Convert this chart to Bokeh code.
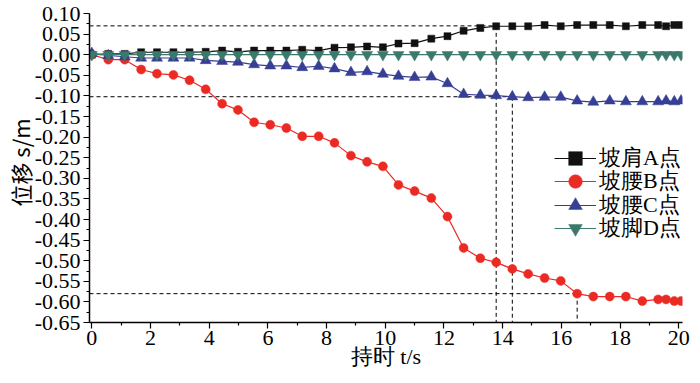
import math
from bokeh.plotting import figure
from bokeh.models import Range1d, FixedTicker, NumeralTickFormatter, Legend, LegendItem
from bokeh.embed import file_html
from bokeh.resources import INLINE

# ---------------- data ----------------
t = [0.00, 0.56, 1.12, 1.68, 2.22, 2.78, 3.33, 3.88, 4.44, 4.98,
     5.53, 6.08, 6.63, 7.17, 7.73, 8.27, 8.83, 9.38, 9.92, 10.45,
     11.00, 11.57, 12.12, 12.67, 13.24, 13.78, 14.33, 14.87, 15.43, 15.98,
     16.54, 17.09, 17.65, 18.20, 18.76, 19.30, 19.57, 19.85, 20.08]

s_A = [0.000, 0.002, 0.002, 0.006, 0.006, 0.006, 0.006, 0.007, 0.010, 0.007,
       0.010, 0.010, 0.010, 0.012, 0.010, 0.017, 0.018, 0.020, 0.018, 0.027,
       0.028, 0.039, 0.045, 0.058, 0.065, 0.069, 0.069, 0.069, 0.072, 0.069,
       0.072, 0.072, 0.072, 0.069, 0.072, 0.072, 0.069, 0.072, 0.072]

s_B = [0.000, -0.012, -0.012, -0.036, -0.046, -0.049, -0.062, -0.084, -0.119, -0.134,
       -0.164, -0.170, -0.178, -0.198, -0.198, -0.214, -0.245, -0.260, -0.271, -0.316,
       -0.331, -0.348, -0.393, -0.469, -0.494, -0.504, -0.520, -0.532, -0.542, -0.549,
       -0.580, -0.587, -0.587, -0.587, -0.598, -0.594, -0.594, -0.598, -0.598]

s_C = [0.003, -0.002, -0.005, -0.008, -0.008, -0.008, -0.008, -0.014, -0.016, -0.018,
       -0.024, -0.027, -0.027, -0.031, -0.028, -0.034, -0.043, -0.041, -0.047, -0.052,
       -0.055, -0.054, -0.070, -0.096, -0.098, -0.099, -0.102, -0.104, -0.103, -0.103,
       -0.112, -0.115, -0.112, -0.114, -0.114, -0.114, -0.112, -0.114, -0.112]

s_D = [0.000, 0.000, 0.000, 0.000, 0.000, 0.000, 0.000, 0.000, 0.000, 0.000,
       0.000, 0.000, 0.000, 0.000, 0.000, 0.000, 0.000, 0.000, 0.000, 0.000,
       0.000, 0.000, 0.000, 0.000, 0.000, 0.000, 0.000, 0.000, 0.000, 0.000,
       0.000, 0.000, 0.000, 0.000, 0.000, 0.000, 0.000, 0.000, 0.000]

series_names = ["坡肩A点", "坡腰B点", "坡腰C点", "坡脚D点"]
x_title = "持时 t/s"
y_title = "位移 s/m"

# reference (dashed) guide lines: level and time of the marked points
ref_levels = [0.07, -0.102, -0.58]
ref_times = [13.78, 14.33, 16.54]

x_ticks = [0, 2, 4, 6, 8, 10, 12, 14, 16, 18, 20]
x_minor = [1, 3, 5, 7, 9, 11, 13, 15, 17, 19]
y_ticks = [0.10, 0.05, 0.00, -0.05, -0.10, -0.15, -0.20, -0.25, -0.30, -0.35,
           -0.40, -0.45, -0.50, -0.55, -0.60, -0.65]
y_minor = [0.075, 0.025, -0.025, -0.075, -0.125, -0.175, -0.225, -0.275, -0.325,
           -0.375, -0.425, -0.475, -0.525, -0.575, -0.625]

X_MIN, X_MAX = -0.08, 20.13
Y_MIN, Y_MAX = -0.65, 0.10

# ---------------- figure ----------------
p = figure(width=692, height=375, output_backend="svg", toolbar_location=None,
           x_range=Range1d(X_MIN, X_MAX), y_range=Range1d(Y_MIN, Y_MAX),
           min_border_left=83, min_border_right=10, min_border_top=13, min_border_bottom=53)
p.outline_line_color = None
p.xgrid.visible = False
p.ygrid.visible = False
p.background_fill_color = "white"

SERIF = "Liberation Serif"

for ax in (p.xaxis[0], p.yaxis[0]):
    ax.axis_line_width = 1.5
    ax.axis_line_color = "black"
    ax.major_tick_line_color = "black"
    ax.minor_tick_line_color = "black"
    ax.major_tick_line_width = 1.2
    ax.minor_tick_line_width = 1.2
    ax.major_tick_in = 0
    ax.major_tick_out = 6
    ax.minor_tick_in = 0
    ax.minor_tick_out = 3
    ax.major_label_text_font = SERIF
    ax.major_label_text_font_size = "22px"
    ax.major_label_text_color = "black"
    ax.axis_label_text_font_size = "22px"
    ax.axis_label_text_font_style = "normal"
    ax.axis_label_text_color = "black"

p.xaxis[0].axis_label_text_font = SERIF
p.yaxis[0].axis_label_text_font = "Noto Sans CJK SC"

p.xaxis[0].ticker = FixedTicker(ticks=x_ticks, minor_ticks=x_minor)
p.xaxis[0].formatter = NumeralTickFormatter(format="0")
p.xaxis[0].major_label_standoff = 2
p.xaxis[0].axis_label = x_title
p.xaxis[0].axis_label_standoff = -4

p.yaxis[0].ticker = FixedTicker(ticks=y_ticks, minor_ticks=y_minor)
p.yaxis[0].formatter = NumeralTickFormatter(format="0.00")
p.yaxis[0].major_label_standoff = 3
p.yaxis[0].axis_label = "\u2002" + y_title
p.yaxis[0].axis_label_standoff = -4

# dashed guide lines
h_x0 = [X_MIN] * len(ref_levels)
p.segment(x0=h_x0, y0=ref_levels, x1=ref_times, y1=ref_levels,
          line_color="black", line_width=1, line_dash="4 3")
p.segment(x0=ref_times, y0=ref_levels, x1=ref_times, y1=[Y_MIN] * len(ref_times),
          line_color="black", line_width=1, line_dash="4 3")

styles = [
    (s_A, "#111111", "square", 7),
    (s_B, "#EC2A24", "circle", 9),
    (s_C, "#363F94", "triangle", 11),
    (s_D, "#3C796D", "inverted_triangle", 11),
]

# one single-row legend per series so that the row pitch can be set exactly
ROW_PITCH = 23.4
ROW_BOX = 34
LEG_X = 465
FIRST_ROW_FROM_BOTTOM = 147  # bottom of the first row box above the frame bottom

for i, ((ys, col, mk, sz), name) in enumerate(zip(styles, series_names)):
    lr = p.line(t, ys, line_color=col, line_width=1.2)
    sr = p.scatter(t, ys, marker=mk, size=sz, fill_color=col, line_color=col, line_width=0.5)
    lg = Legend(items=[LegendItem(label=name, renderers=[lr, sr])],
                location=(LEG_X, FIRST_ROW_FROM_BOTTOM - i * ROW_PITCH))
    lg.label_text_font = SERIF
    lg.label_text_font_size = "22px"
    lg.label_text_color = "black"
    lg.glyph_width = 42
    lg.glyph_height = ROW_BOX
    lg.label_height = ROW_BOX
    lg.label_standoff = 3
    lg.spacing = 0
    lg.padding = 0
    lg.margin = 0
    lg.border_line_color = None
    lg.background_fill_alpha = 0
    p.add_layout(lg)

open("out.html", "w").write(file_html(p, INLINE))
